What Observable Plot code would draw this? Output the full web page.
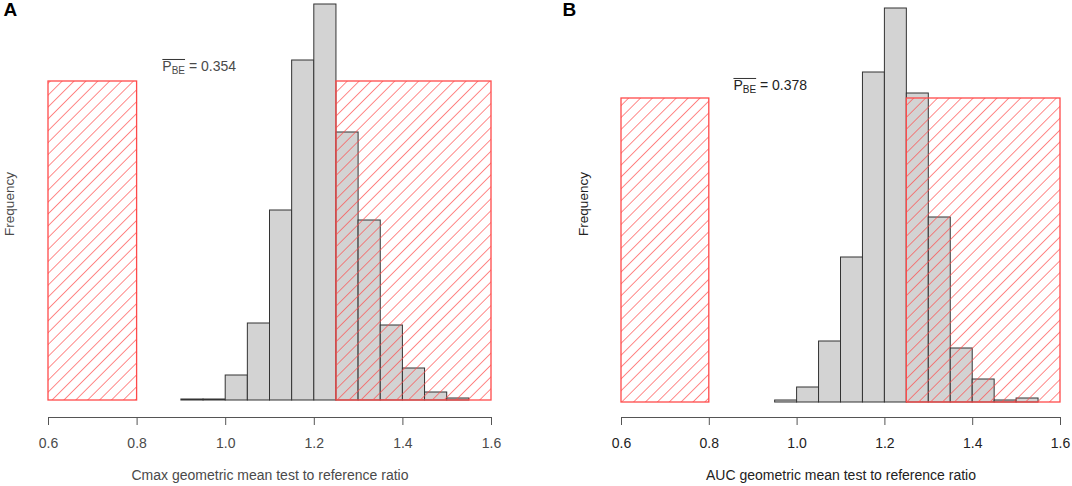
<!DOCTYPE html>
<html>
<head>
<meta charset="utf-8">
<script src="https://cdn.jsdelivr.net/npm/d3@7"></script>
<script src="https://cdn.jsdelivr.net/npm/@observablehq/plot@0.6"></script>
<style>
  html, body { margin: 0; padding: 0; background: #fff; }
  #wrap { display: flex; width: 1072px; height: 486px; }
  svg { font-family: "Liberation Sans", Arial, sans-serif; }
</style>
</head>
<body>
<div id="wrap"></div>
<script>
// ---- data ----
const binWidth = 0.05;
const binStartA = [0.90, 0.95, 1.00, 1.05, 1.10, 1.15, 1.20, 1.25, 1.30, 1.35, 1.40, 1.45, 1.50];
const countsA   = [1, 1, 25, 77, 190, 340, 396, 268, 180, 75, 32, 8, 2];
const binStartB = [0.95, 1.00, 1.05, 1.10, 1.15, 1.20, 1.25, 1.30, 1.35, 1.40, 1.45, 1.50];
const countsB   = [2, 15, 61, 145, 330, 394, 309, 185, 54, 23, 2, 4];
const zonesX = [[0.6, 0.8], [1.25, 1.6]];
const zoneHeightA = 319;
const zoneHeightB = 304;
const pbeA = 0.354;
const pbeB = 0.378;
const xTicks = [0.6, 0.8, 1.0, 1.2, 1.4, 1.6];
const panelLetters = ["A", "B"];
const xLabels = ["Cmax geometric mean test to reference ratio", "AUC geometric mean test to reference ratio"];
const yLabel = "Frequency";

function makePanel({letter, starts, counts, zoneHeight, pbe, xLabel, marginLeft, marginRight, yDomain, id, textColor, pbePos, letterDx, freqDx}) {
  const bars = starts.map((s, i) => ({x1: s, x2: +(s + binWidth).toFixed(2), y: counts[i]}));
  const zones = zonesX.map(([a, b]) => ({x1: a, x2: b, h: zoneHeight}));
  const defs = () => {
    const d = d3.create("svg:defs");
    const p = d.append("pattern").attr("id", id).attr("patternUnits", "userSpaceOnUse")
      .attr("width", 8.4).attr("height", 8.4).attr("patternTransform", "rotate(45)");
    p.append("line").attr("x1", 0).attr("y1", 0).attr("x2", 0).attr("y2", 8.4)
      .attr("stroke", "#ff4a4a").attr("stroke-width", 1.3);
    return d.node();
  };
  const svg = Plot.plot({
    width: 536, height: 486,
    marginLeft, marginRight, marginTop: 0, marginBottom: 69,
    style: {fontFamily: "Liberation Sans, Arial, sans-serif", fontSize: "14px", color: textColor},
    x: {domain: [d3.min(xTicks), d3.max(xTicks)]},
    y: {domain: yDomain, axis: null},
    marks: [
      defs,
      Plot.rect(bars, {x1: "x1", x2: "x2", y1: 0, y2: "y", fill: "#d3d3d3", stroke: "#333", strokeWidth: 1}),
      Plot.rect(zones, {x1: "x1", x2: "x2", y1: 0, y2: "h", fill: `url(#${id})`, stroke: "#ff4a4a", strokeWidth: 1.3}),
      Plot.ruleY([yDomain[0]], {x1: d3.min(xTicks), x2: d3.max(xTicks), stroke: "#555"}),
      Plot.axisX({ticks: xTicks, tickFormat: d3.format(".1f"), tickSize: 8, tickPadding: 13, stroke: "#555", label: null, fill: textColor, fontSize: 14}),
      Plot.text([xLabel], {frameAnchor: "bottom", dy: 58, lineAnchor: "middle", fill: textColor, fontSize: 14}),
      Plot.text([yLabel], {frameAnchor: "left", dx: freqDx, dy: -5, rotate: -90, textAnchor: "middle", lineAnchor: "middle", fill: textColor, fontSize: 13.5}),
      Plot.text([letter], {frameAnchor: "top-left", dx: letterDx, dy: 2, textAnchor: "start", lineAnchor: "top", fontWeight: "bold", fontSize: 19, fill: "#000"}),
      Plot.text([pbe], {x: pbePos[0], y: pbePos[1], text: d => "PBE|" + d3.format(".3f")(d), textAnchor: "start", lineAnchor: "middle", fill: textColor, fontSize: 14})
    ]
  });
  d3.select(svg).selectAll("text").filter(function() { return this.textContent.startsWith("PBE|"); })
    .each(function() {
      const t = d3.select(this).classed("pbe", true);
      const val = this.textContent.split("|")[1];
      t.text(null);
      t.append("tspan").text("P");
      t.append("tspan").attr("dy", 3).attr("font-size", 10).text("BE");
      t.append("tspan").attr("dy", -3).text(" = " + val);
    });
  return svg;
}

function addOverlines(svg) {
  d3.select(svg).selectAll("text.pbe").each(function() {
    const p = this.getExtentOfChar(0);
    const e = this.getExtentOfChar(2);
    const g = this.parentNode;
    const y = p.y + 1.5;
    d3.select(g).append("line")
      .attr("x1", p.x).attr("x2", e.x + e.width)
      .attr("y1", y).attr("y2", y)
      .attr("stroke", this.getAttribute("fill") || "#333").attr("stroke-width", 1)
      .attr("transform", this.getAttribute("transform"));
  });
}

const wrap = document.getElementById("wrap");
const svgA = makePanel({
  letter: panelLetters[0], starts: binStartA, counts: countsA, zoneHeight: zoneHeightA, pbe: pbeA,
  xLabel: xLabels[0], marginLeft: 48, marginRight: 45, yDomain: [-17, 400], id: "hatchA",
  textColor: "#4a4a4a", pbePos: [0.857, 334], letterDx: -45, freqDx: -39
});
const svgB = makePanel({
  letter: panelLetters[1], starts: binStartB, counts: countsB, zoneHeight: zoneHeightB, pbe: pbeB,
  xLabel: xLabels[1], marginLeft: 85, marginRight: 12, yDomain: [-15, 402], id: "hatchB",
  textColor: "#222", pbePos: [0.855, 317], letterDx: -59, freqDx: -38
});
wrap.appendChild(svgA);
wrap.appendChild(svgB);
addOverlines(svgA);
addOverlines(svgB);
</script>
</body>
</html>
